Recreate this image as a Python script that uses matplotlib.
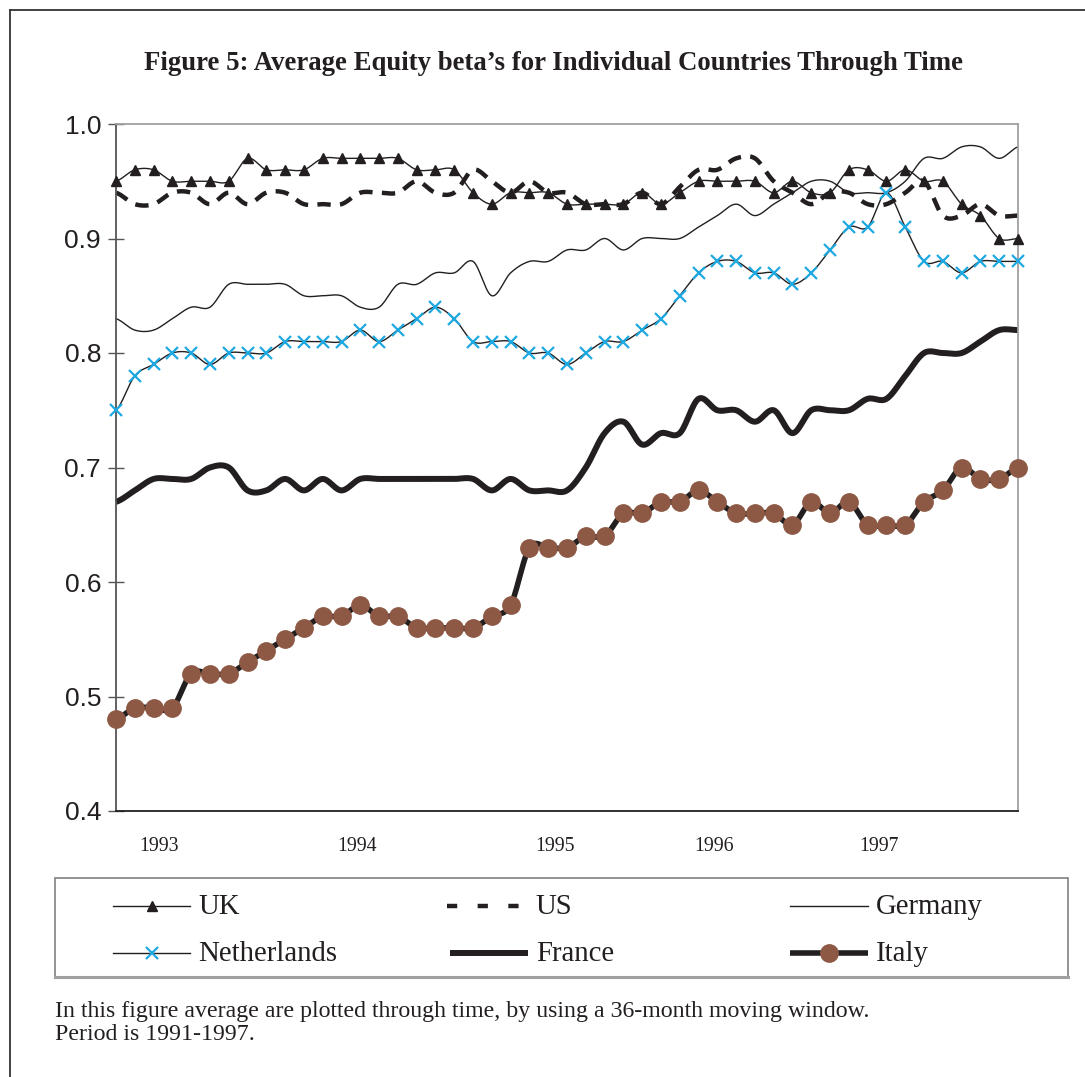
import numpy as np
import matplotlib
matplotlib.use("Agg")
import matplotlib.pyplot as plt
from matplotlib.lines import Line2D
from matplotlib.patches import Rectangle

# ---------------- data (monthly 36-month moving-window averages) ----------------
uk = [0.95, 0.96, 0.96, 0.95, 0.95, 0.95, 0.95, 0.97, 0.96, 0.96,
      0.96, 0.97, 0.97, 0.97, 0.97, 0.97, 0.96, 0.96, 0.96, 0.94,
      0.93, 0.94, 0.94, 0.94, 0.93, 0.93, 0.93, 0.93, 0.94, 0.93,
      0.94, 0.95, 0.95, 0.95, 0.95, 0.94, 0.95, 0.94, 0.94, 0.96,
      0.96, 0.95, 0.96, 0.95, 0.95, 0.93, 0.92, 0.90, 0.90]
us = [0.94, 0.93, 0.93, 0.94, 0.94, 0.93, 0.94, 0.93, 0.94, 0.94,
      0.93, 0.93, 0.93, 0.94, 0.94, 0.94, 0.95, 0.94, 0.94, 0.96,
      0.95, 0.94, 0.95, 0.94, 0.94, 0.93, 0.93, 0.93, 0.94, 0.93,
      0.945, 0.96, 0.96, 0.97, 0.97, 0.95, 0.94, 0.93, 0.94, 0.94,
      0.93, 0.93, 0.94, 0.95, 0.92, 0.92, 0.93, 0.92, 0.92]
germany = [0.83, 0.82, 0.82, 0.83, 0.84, 0.84, 0.86, 0.86, 0.86, 0.86,
           0.85, 0.85, 0.85, 0.84, 0.84, 0.86, 0.86, 0.87, 0.87, 0.88,
           0.85, 0.87, 0.88, 0.88, 0.89, 0.89, 0.90, 0.89, 0.90, 0.90,
           0.90, 0.91, 0.92, 0.93, 0.92, 0.93, 0.94, 0.95, 0.95, 0.94,
           0.94, 0.94, 0.95, 0.97, 0.97, 0.98, 0.98, 0.97, 0.98]
netherlands = [0.75, 0.78, 0.79, 0.80, 0.80, 0.79, 0.80, 0.80, 0.80, 0.81,
               0.81, 0.81, 0.81, 0.82, 0.81, 0.82, 0.83, 0.84, 0.83, 0.81,
               0.81, 0.81, 0.80, 0.80, 0.79, 0.80, 0.81, 0.81, 0.82, 0.83,
               0.85, 0.87, 0.88, 0.88, 0.87, 0.87, 0.86, 0.87, 0.89, 0.91,
               0.91, 0.94, 0.91, 0.88, 0.88, 0.87, 0.88, 0.88, 0.88]
france = [0.67, 0.68, 0.69, 0.69, 0.69, 0.70, 0.70, 0.68, 0.68, 0.69,
          0.68, 0.69, 0.68, 0.69, 0.69, 0.69, 0.69, 0.69, 0.69, 0.69,
          0.68, 0.69, 0.68, 0.68, 0.68, 0.70, 0.73, 0.74, 0.72, 0.73,
          0.73, 0.76, 0.75, 0.75, 0.74, 0.75, 0.73, 0.75, 0.75, 0.75,
          0.76, 0.76, 0.78, 0.80, 0.80, 0.80, 0.81, 0.82, 0.82]
italy = [0.48, 0.49, 0.49, 0.49, 0.52, 0.52, 0.52, 0.53, 0.54, 0.55,
         0.56, 0.57, 0.57, 0.58, 0.57, 0.57, 0.56, 0.56, 0.56, 0.56,
         0.57, 0.58, 0.63, 0.63, 0.63, 0.64, 0.64, 0.66, 0.66, 0.67,
         0.67, 0.68, 0.67, 0.66, 0.66, 0.66, 0.65, 0.67, 0.66, 0.67,
         0.65, 0.65, 0.65, 0.67, 0.68, 0.70, 0.69, 0.69, 0.70]

year_labels = ["1993", "1994", "1995", "1996", "1997"]
year_label_pos = [2.3, 12.85, 23.35, 31.85, 40.6]   # layout: where the year labels sit
y_ticks = [0.4, 0.5, 0.6, 0.7, 0.8, 0.9, 1.0]

title = "Figure 5: Average Equity beta\u2019s for Individual Countries Through Time"
note1 = "In this figure average are plotted through time, by using a 36-month moving window."
note2 = "Period is 1991-1997."

# ---------------- style ----------------
W, H, DPI = 1085, 1077, 100
BLACK = "#231f20"
BLUE = "#1ea9e1"
BROWN = "#8e5944"
SERIF = ["Liberation Serif", "DejaVu Serif"]
SANS = ["Liberation Sans", "DejaVu Sans"]


def fx(px):
    return px / W


def fy(py):
    return 1 - py / H


def smooth(vals, n=16):
    """Excel-like smoothed line (Catmull-Rom Bezier) through the data points."""
    v = np.asarray(vals, float)
    m = len(v)
    xs, ys = [], []
    for i in range(m - 1):
        y0, y1 = v[i], v[i + 1]
        ym = v[i - 1] if i > 0 else y0
        yp = v[i + 2] if i + 2 < m else y1
        c1 = y0 + (y1 - ym) / 6.0
        c2 = y1 - (yp - y0) / 6.0
        t = np.linspace(0, 1, n, endpoint=(i == m - 2))
        xs.append(i + t)
        ys.append((1 - t) ** 3 * y0 + 3 * (1 - t) ** 2 * t * c1
                  + 3 * (1 - t) * t ** 2 * c2 + t ** 3 * y1)
    return np.concatenate(xs), np.concatenate(ys)


fig = plt.figure(figsize=(W / DPI, H / DPI), dpi=DPI)
fig.patch.set_facecolor("white")

# outer frame
fig.add_artist(Line2D([fx(10), fx(1085)], [fy(10), fy(10)], color="#333333", lw=1.3))
fig.add_artist(Line2D([fx(10), fx(10)], [fy(10), fy(1077)], color="#333333", lw=1.3))

fig.text(fx(554), fy(63), title, ha="center", va="center", family=SERIF,
         fontweight="bold", fontsize=19.3, color=BLACK)

ax = fig.add_axes([fx(116), fy(811), fx(1018) - fx(116), fy(124) - fy(811)])
x = np.arange(len(italy))

series = [
    (us, dict(color=BLACK, lw=3.2, dashes=(3.0, 2.1), dash_capstyle="butt"), None),
    (germany, dict(color=BLACK, lw=1.0), None),
    (uk, dict(color=BLACK, lw=1.0), dict(marker="^", ms=7.5, color=BLACK)),
    (netherlands, dict(color=BLACK, lw=1.0), dict(marker="x", ms=9, mew=1.6, color=BLUE)),
    (france, dict(color=BLACK, lw=4.3, solid_capstyle="butt"), None),
    (italy, dict(color=BLACK, lw=4.0, solid_capstyle="butt"),
     dict(marker="o", ms=12.5, color=BROWN, mec=BROWN)),
]
for vals, lstyle, mstyle in series:
    sx, sy = smooth(vals)
    ax.plot(sx, sy, clip_on=False, **lstyle)
    if mstyle is not None:
        c = mstyle.pop("color")
        ax.plot(x, vals, linestyle="none", color=c, clip_on=False, zorder=3, **mstyle)

ax.set_xlim(0, len(italy) - 1)
ax.set_ylim(0.4, 1.0)
ax.set_yticks(y_ticks)
ax.set_yticklabels([f"{v:.1f}" for v in y_ticks], family=SANS, fontsize=19, color=BLACK)
ax.tick_params(axis="y", direction="inout", length=11.5, width=1.0, color="#555555", pad=5)
ax.set_xticks(year_label_pos)
ax.set_xticklabels(year_labels, family=SERIF, fontsize=14.3, color=BLACK)
ax.tick_params(axis="x", length=0, pad=19)

for s in ("top", "right"):
    ax.spines[s].set_color("#a0a0a0")
    ax.spines[s].set_linewidth(1.3)
ax.spines["left"].set_color("#555555")
ax.spines["left"].set_linewidth(1.3)
ax.spines["bottom"].set_color(BLACK)
ax.spines["bottom"].set_linewidth(1.3)

# ---------------- legend (drawn as a framed box under the plot) ----------------
fig.add_artist(Rectangle((fx(55), fy(977)), fx(1068) - fx(55), fy(878) - fy(977),
                         transform=fig.transFigure, fill=False, edgecolor="#808080", lw=1.2))
fig.add_artist(Line2D([fx(55), fx(1068)], [fy(977), fy(977)], color="#a0a0a0", lw=2.2))

legend_items = [
    ("UK", 113, 190, 906, dict(color=BLACK, lw=1.0), dict(marker="^", ms=7.5, color=BLACK)),
    ("US", 447, 527, 906, dict(color=BLACK, lw=3.2, dashes=(2.3, 4.6), dash_capstyle="butt"), None),
    ("Germany", 790, 868, 906, dict(color=BLACK, lw=1.0), None),
    ("Netherlands", 113, 190, 953, dict(color=BLACK, lw=1.0),
     dict(marker="x", ms=9, mew=1.6, color=BLUE)),
    ("France", 450, 528, 953, dict(color=BLACK, lw=4.3, solid_capstyle="butt"), None),
    ("Italy", 790, 868, 953, dict(color=BLACK, lw=4.0, solid_capstyle="butt"),
     dict(marker="o", ms=12.5, color=BROWN)),
]
for label, x0, x1, yy, lstyle, mstyle in legend_items:
    fig.add_artist(Line2D([fx(x0), fx(x1)], [fy(yy), fy(yy)], **lstyle))
    if mstyle is not None:
        c = mstyle.pop("color")
        fig.add_artist(Line2D([fx((x0 + x1) / 2)], [fy(yy)], linestyle="none",
                              color=c, mec=c, **mstyle))
    fig.text(fx(x1 + 8), fy(yy + 1), label, ha="left", va="center", family=SERIF,
             fontsize=20.7, color=BLACK)

fig.text(fx(55), fy(1011), note1, ha="left", va="center", family=SERIF, fontsize=17.2, color=BLACK)
fig.text(fx(55), fy(1035), note2, ha="left", va="center", family=SERIF, fontsize=17.2, color=BLACK)

fig.savefig("out.png", dpi=DPI, facecolor="white")
